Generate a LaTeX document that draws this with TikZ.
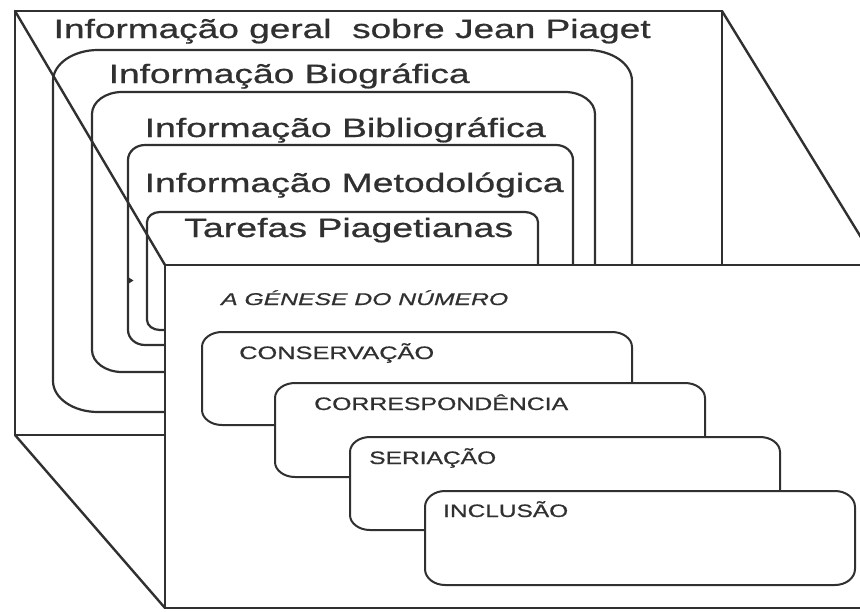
\documentclass[tikz,border=0pt]{standalone}
\usepackage{fontspec}
\usepackage{graphicx}
\setmainfont{Liberation Sans}[FakeBold=0.6]
\definecolor{ink}{HTML}{303030}
\tikzset{
  frame/.style={line width=2.4pt, draw=ink, line join=round, line cap=round},
  nested/.style={line width=2.2pt, draw=ink},
  stepbox/.style={line width=2pt, draw=ink, fill=white},
  bigtxt/.style={inner sep=0pt, anchor=base west, text=ink, font=\fontsize{26.5}{30}\selectfont},
  smalltxt/.style={inner sep=0pt, anchor=base west, text=ink, font=\fontsize{18}{21}\selectfont},
}
% elliptical rounded rectangle: [style] x1 y1 x2 y2 rx ry
\newcommand\erect[7][]{%
  \path[#1] (#2+#6,#3) -- (#4-#6,#3)
    .. controls (#4-0.448*#6,#3) and (#4,#3+0.448*#7) .. (#4,#3+#7)
    -- (#4,#5-#7)
    .. controls (#4,#5-0.448*#7) and (#4-0.448*#6,#5) .. (#4-#6,#5)
    -- (#2+#6,#5)
    .. controls (#2+0.448*#6,#5) and (#2,#5-0.448*#7) .. (#2,#5-#7)
    -- (#2,#3+#7)
    .. controls (#2,#3+0.448*#7) and (#2+0.448*#6,#3) .. (#2+#6,#3) -- cycle;}
\begin{document}
\begin{tikzpicture}[x=1pt,y=-1pt]
\useasboundingbox (0,0) rectangle (860,611);
\clip (0,0) rectangle (860,611);
\fill[white] (0,0) rectangle (860,611);
% corner coordinates of the box
\coordinate (bTL) at (15,11);
\coordinate (bTR) at (722,11);
\coordinate (bBL) at (15,435);
\coordinate (bBR) at (165,435);
\coordinate (fTL) at (165,265);
\coordinate (fTR) at (878,265);
\coordinate (fBL) at (165,608);
\coordinate (fBR) at (878,608);
\coordinate (rV) at (722,265);
% back face and edges
\draw[frame] (bBR) -- (bBL) -- (bTL) -- (bTR) -- (rV);
\draw[frame] (bTL) -- (fTL);
\draw[frame] (bTR) -- (fTR);
\draw[frame] (bBL) -- (fBL);
% nested rounded frames
\erect[nested]{53}{50}{632}{412}{45}{31}
\erect[nested]{92}{92}{595}{372}{30}{22}
\erect[nested]{128}{145}{573}{345}{17}{15}
\erect[nested]{147}{212}{538}{330}{13}{10}
\fill[ink] (128,277) -- (133.5,280.5) -- (128,284) -- cycle;
% nested labels
\node[bigtxt] (t1) at (53.5,38) {\resizebox{597pt}{\height}{Informação geral\ \ sobre Jean Piaget}};
\node[bigtxt] (t2) at (108.5,83) {\resizebox{361pt}{\height}{Informação Biográfica}};
\node[bigtxt] (t3) at (144.5,137) {\resizebox{401pt}{\height}{Informação Bibliográfica}};
\node[bigtxt] (t4) at (144.5,192) {\resizebox{419pt}{\height}{Informação Metodológica}};
\node[bigtxt] (t5) at (184,237) {\resizebox{329pt}{\height}{Tarefas Piagetianas}};
% front face
\filldraw[frame, fill=white] (fTL) -- (fTR) -- (fBR) -- (fBL) -- cycle;
\node[smalltxt, font=\fontsize{17}{20}\selectfont\itshape] (title) at (221,305) {\resizebox{287pt}{\height}{A GÉNESE DO NÚMERO}};
% step boxes
\erect[stepbox]{202}{332}{632}{425}{20}{15}
\node[smalltxt] (s1) at (239,359) {\resizebox{195pt}{\height}{CONSERVAÇÃO}};
\erect[stepbox]{275}{383}{705}{477}{20}{15}
\node[smalltxt] (s2) at (314,410) {\resizebox{254pt}{\height}{CORRESPONDÊNCIA}};
\erect[stepbox]{350}{437}{780}{530}{20}{15}
\node[smalltxt] (s3) at (369,464) {\resizebox{127pt}{\height}{SERIAÇÃO}};
\erect[stepbox]{425}{491}{855}{585}{20}{16}
\node[smalltxt] (s4) at (443,517) {\resizebox{125pt}{\height}{INCLUSÃO}};
\end{tikzpicture}
\end{document}
